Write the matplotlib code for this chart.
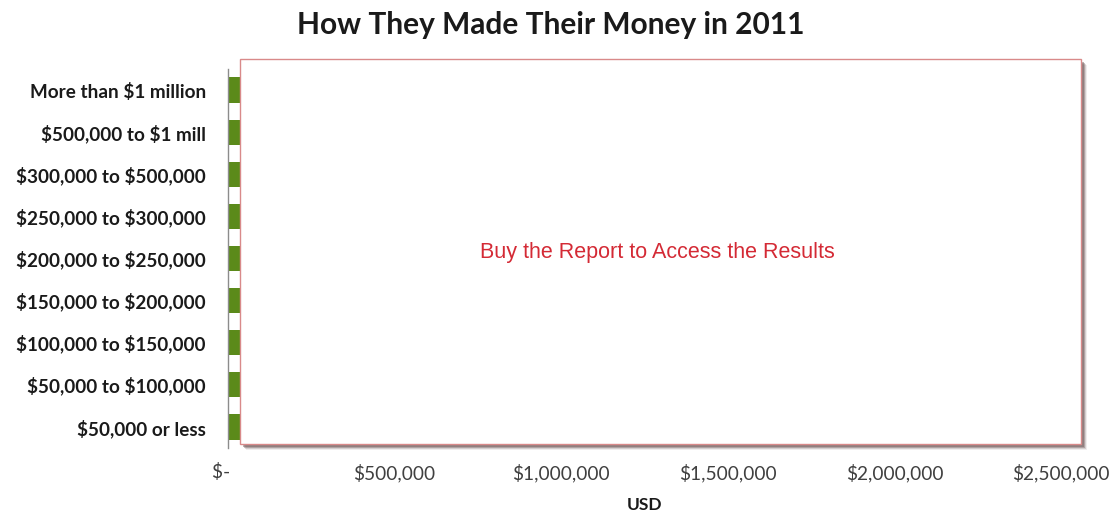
import matplotlib
matplotlib.use('Agg')
import matplotlib.pyplot as plt
from matplotlib.patches import Rectangle

# Income brackets, top to bottom as shown on the chart
brackets = ['More than \\$1 million', '\\$500,000 to \\$1 mill', '\\$300,000 to \\$500,000',
            '\\$250,000 to \\$300,000', '\\$200,000 to \\$250,000', '\\$150,000 to \\$200,000',
            '\\$100,000 to \\$150,000', '\\$50,000 to \\$100,000', '\\$50,000 or less']
# Bar values stay hidden under the "buy the report" panel
amounts = [35000, 35000, 35000, 35000, 35000, 35000, 35000, 35000, 35000]

tick_values = [0, 500000, 1000000, 1500000, 2000000, 2500000]
tick_labels = ['\\$-   ', '\\$500,000', '\\$1,000,000', '\\$1,500,000', '\\$2,000,000', '\\$2,500,000']

W, H = 1118, 521
fig = plt.figure(figsize=(W / 100, H / 100), dpi=100)
fig.patch.set_facecolor('white')


def px_box(x0, y0, x1, y1):
    """Pixel rectangle (top-left origin) -> figure fraction [l, b, w, h]."""
    return [x0 / W, 1 - y1 / H, (x1 - x0) / W, (y1 - y0) / H]


ax = fig.add_axes(px_box(228, 69, 1061, 448))
ypos = list(range(len(brackets)))[::-1]
ax.barh(ypos, amounts, height=0.6, color='#5b8a1a', zorder=2)
ax.set_xlim(0, 2500000)
ax.set_ylim(-0.5, len(brackets) - 0.5)

ax.set_yticks(ypos)
ax.set_yticklabels(brackets, fontsize=13.6, fontweight='bold', family='Lato', color='#1a1a1a')
ax.set_xticks(tick_values)
ax.set_xticklabels(tick_labels, fontsize=13.8, family='Lato', color='#404040')
ax.tick_params(axis='y', length=0, pad=16)
ax.tick_params(axis='x', length=0, pad=11)
ax.set_xlabel('USD', fontsize=12.5, fontweight='bold', family='Lato', color='#1a1a1a', labelpad=11)

for side in ['top', 'right', 'bottom']:
    ax.spines[side].set_visible(False)
ax.spines['left'].set_color('#8c8c8c')
ax.spines['left'].set_linewidth(1.0)

# Panel covering the plot area, with a soft drop shadow
px0, py0, px1, py1 = 240, 59, 1081, 444
pw, ph = (px1 - px0) / W, (py1 - py0) / H
for off, alpha in [(6, 0.10), (5, 0.20), (4, 0.35), (3, 0.45)]:
    fig.patches.append(Rectangle(((px0 + off) / W, 1 - (py1 + off) / H), pw, ph,
                                 transform=fig.transFigure, facecolor='#6b5555',
                                 edgecolor='none', alpha=alpha, zorder=3))
fig.patches.append(Rectangle((px0 / W, 1 - py1 / H), pw, ph,
                             transform=fig.transFigure, facecolor='white',
                             edgecolor='#d98a8a', linewidth=1.0, zorder=4))

fig.text(657 / W, 1 - 253 / H, 'Buy the Report to Access the Results', ha='center', va='center',
         fontsize=15.5, family='Liberation Sans', color='#d42a35', zorder=5)

fig.text(551 / W, 1 - 25 / H, 'How They Made Their Money in 2011', ha='center', va='center',
         fontsize=21.5, fontweight='bold', family='Lato', color='#1a1a1a')

fig.savefig('out.png', dpi=100)
